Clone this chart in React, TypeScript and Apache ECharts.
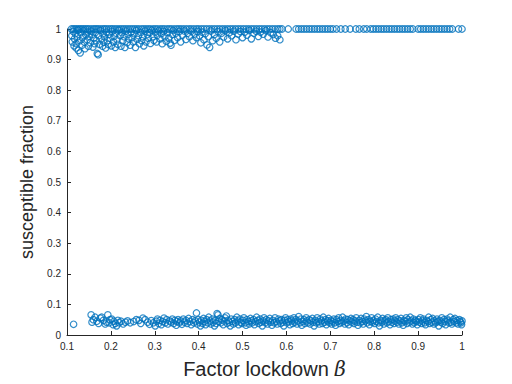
import React, { useEffect, useRef } from "react";
import * as echarts from "echarts";

const xTicks = [0.1, 0.2, 0.3, 0.4, 0.5, 0.6, 0.7, 0.8, 0.9, 1];
const yTicks = [0, 0.1, 0.2, 0.3, 0.4, 0.5, 0.6, 0.7, 0.8, 0.9, 1];

// upper cluster: points exactly at 1 (x values)
const upperAtOneX = [
  0.11, 0.114, 0.118, 0.122, 0.126, 0.13, 0.134, 0.138, 0.142, 0.146, 0.15, 0.155, 0.16, 0.164, 0.168, 0.172,
  0.177, 0.182, 0.186, 0.19, 0.195, 0.2, 0.204, 0.209, 0.214, 0.219, 0.224, 0.229, 0.234, 0.239, 0.244, 0.249,
  0.254, 0.259, 0.264, 0.27, 0.275, 0.28, 0.285, 0.29, 0.296, 0.301, 0.306, 0.312, 0.317, 0.322, 0.328, 0.333,
  0.338, 0.344, 0.35, 0.355, 0.36, 0.366, 0.372, 0.378, 0.383, 0.389, 0.395, 0.4, 0.406, 0.412, 0.418, 0.424,
  0.43, 0.436, 0.442, 0.448, 0.454, 0.46, 0.466, 0.472, 0.478, 0.484, 0.49, 0.496, 0.502, 0.508, 0.514, 0.52,
  0.526, 0.532, 0.538, 0.544, 0.55, 0.556, 0.562, 0.568, 0.574, 0.58,
  0.585, 0.59, 0.604, 0.622, 0.628, 0.634, 0.64, 0.646, 0.652, 0.658, 0.664, 0.67, 0.676, 0.682, 0.688, 0.694,
  0.7, 0.706, 0.714, 0.724, 0.734, 0.745, 0.758, 0.766, 0.776, 0.783, 0.792, 0.798, 0.804, 0.81, 0.816, 0.822,
  0.828, 0.834, 0.84, 0.846, 0.852, 0.858, 0.864, 0.87, 0.876, 0.882, 0.888, 0.9, 0.906, 0.912, 0.918, 0.924,
  0.93, 0.936, 0.942, 0.948, 0.954, 0.96, 0.966, 0.972, 0.978, 0.992, 1.0,
];

// upper cluster: points below 1
const upperBelow: [number, number][] = [
  [0.111, 0.978], [0.112, 0.958], [0.114, 0.992], [0.116, 0.945], [0.117, 0.968], [0.119, 0.985], [0.121, 0.952],
  [0.121, 0.938], [0.124, 0.975], [0.125, 0.996], [0.126, 0.93], [0.129, 0.962], [0.13, 0.922], [0.131, 0.988],
  [0.134, 0.947], [0.135, 0.972], [0.138, 0.994], [0.139, 0.958], [0.141, 0.936], [0.143, 0.981], [0.146, 0.965],
  [0.147, 0.99], [0.149, 0.944], [0.151, 0.976], [0.153, 0.955], [0.155, 0.993], [0.157, 0.982], [0.159, 0.941],
  [0.161, 0.97], [0.163, 0.952], [0.165, 0.989], [0.167, 0.962], [0.169, 0.92], [0.171, 0.916], [0.172, 0.978],
  [0.174, 0.95], [0.176, 0.995], [0.178, 0.968], [0.181, 0.944], [0.182, 0.984], [0.184, 0.957], [0.186, 0.974],
  [0.188, 0.938], [0.19, 0.99], [0.192, 0.962], [0.194, 0.95], [0.196, 0.983], [0.198, 0.97],
  [0.201, 0.945], [0.203, 0.992], [0.206, 0.958], [0.207, 0.976], [0.21, 0.94], [0.211, 0.987], [0.214, 0.965],
  [0.216, 0.95], [0.218, 0.996], [0.221, 0.978], [0.223, 0.944], [0.225, 0.988], [0.227, 0.962], [0.23, 0.975],
  [0.232, 0.94], [0.234, 0.993], [0.237, 0.955], [0.239, 0.982], [0.241, 0.968], [0.244, 0.947], [0.246, 0.99],
  [0.248, 0.972], [0.251, 0.958], [0.253, 0.985], [0.256, 0.94], [0.258, 0.995], [0.26, 0.966], [0.263, 0.978],
  [0.265, 0.952], [0.268, 0.989], [0.27, 0.962], [0.273, 0.975], [0.275, 0.945], [0.278, 0.993], [0.28, 0.958],
  [0.283, 0.982], [0.285, 0.97], [0.288, 0.988], [0.29, 0.953], [0.293, 0.996], [0.296, 0.975], [0.298, 0.963],
  [0.301, 0.99], [0.304, 0.958], [0.306, 0.98], [0.309, 0.994], [0.312, 0.968], [0.315, 0.985], [0.317, 0.952],
  [0.32, 0.992], [0.323, 0.975], [0.326, 0.96], [0.329, 0.988], [0.332, 0.97], [0.335, 0.954], [0.337, 0.947],
  [0.34, 0.982], [0.342, 0.995], [0.345, 0.963], [0.348, 0.986], [0.352, 0.972], [0.356, 0.992], [0.359, 0.958],
  [0.363, 0.98], [0.367, 0.994], [0.371, 0.966], [0.375, 0.986], [0.379, 0.975], [0.383, 0.993], [0.387, 0.962],
  [0.391, 0.984], [0.395, 0.972], [0.398, 0.992],
  [0.402, 0.978], [0.405, 0.955], [0.408, 0.99], [0.412, 0.965], [0.415, 0.985], [0.419, 0.948], [0.422, 0.975],
  [0.425, 0.94], [0.428, 0.994], [0.432, 0.962], [0.436, 0.982], [0.44, 0.97], [0.444, 0.992], [0.448, 0.958],
  [0.452, 0.986], [0.457, 0.974], [0.461, 0.995], [0.466, 0.968], [0.47, 0.988], [0.475, 0.978], [0.48, 0.993],
  [0.485, 0.965], [0.49, 0.984], [0.495, 0.992],
  [0.5, 0.972], [0.505, 0.99], [0.51, 0.98], [0.515, 0.995], [0.52, 0.968], [0.526, 0.986], [0.531, 0.993],
  [0.536, 0.976], [0.541, 0.99], [0.547, 0.983], [0.553, 0.995], [0.558, 0.974], [0.564, 0.988], [0.57, 0.982],
  [0.575, 0.97], [0.58, 0.978], [0.585, 0.965],
];

// lower cluster
const lower: [number, number][] = [
  [0.115, 0.035],
  [0.155, 0.066], [0.157, 0.042], [0.16, 0.05], [0.164, 0.058], [0.168, 0.045], [0.172, 0.038], [0.176, 0.055],
  [0.179, 0.058], [0.183, 0.048], [0.187, 0.036], [0.19, 0.042], [0.193, 0.066], [0.196, 0.04], [0.198, 0.05],
  [0.202, 0.052], [0.205, 0.034], [0.207, 0.045], [0.21, 0.038], [0.213, 0.03], [0.216, 0.048], [0.219, 0.04],
  [0.223, 0.045], [0.228, 0.036], [0.233, 0.042], [0.238, 0.046], [0.244, 0.04],
  [0.252, 0.044], [0.258, 0.05], [0.264, 0.048], [0.268, 0.038], [0.273, 0.055], [0.278, 0.05], [0.284, 0.042],
  [0.288, 0.035], [0.292, 0.047], [0.297, 0.04],
  [0.301, 0.03], [0.304, 0.045], [0.306, 0.052], [0.309, 0.038], [0.312, 0.048], [0.315, 0.034], [0.318, 0.044],
  [0.321, 0.055], [0.324, 0.04], [0.327, 0.05], [0.33, 0.036], [0.334, 0.046], [0.337, 0.042], [0.34, 0.052],
  [0.343, 0.038], [0.346, 0.048], [0.349, 0.032], [0.35, 0.044],
  [0.353, 0.05], [0.356, 0.04], [0.359, 0.046], [0.362, 0.035], [0.365, 0.052], [0.368, 0.042], [0.371, 0.048],
  [0.374, 0.038], [0.377, 0.054], [0.38, 0.044], [0.383, 0.034], [0.386, 0.05], [0.389, 0.04], [0.392, 0.046],
  [0.395, 0.072], [0.397, 0.036], [0.399, 0.05],
  [0.402, 0.042], [0.404, 0.03], [0.406, 0.048], [0.409, 0.038], [0.411, 0.054], [0.413, 0.044], [0.416, 0.034],
  [0.418, 0.05], [0.421, 0.04], [0.423, 0.058], [0.426, 0.046], [0.428, 0.036], [0.431, 0.052], [0.433, 0.042],
  [0.436, 0.03], [0.438, 0.048], [0.44, 0.038], [0.442, 0.07], [0.444, 0.066], [0.446, 0.044], [0.448, 0.054],
  [0.451, 0.04], [0.453, 0.05], [0.456, 0.034], [0.458, 0.046], [0.46, 0.056], [0.463, 0.062], [0.465, 0.038],
  [0.467, 0.048], [0.47, 0.042], [0.472, 0.03], [0.474, 0.052], [0.477, 0.044], [0.479, 0.036], [0.482, 0.05],
  [0.484, 0.04], [0.487, 0.058], [0.489, 0.046], [0.491, 0.034], [0.494, 0.052], [0.496, 0.042], [0.498, 0.038],
  [0.501, 0.048], [0.503, 0.056], [0.506, 0.04], [0.508, 0.032], [0.51, 0.05], [0.513, 0.044], [0.515, 0.036],
  [0.518, 0.054], [0.52, 0.046], [0.522, 0.04], [0.525, 0.05], [0.527, 0.034], [0.53, 0.044], [0.532, 0.058],
  [0.535, 0.048], [0.537, 0.038], [0.54, 0.052], [0.542, 0.042], [0.545, 0.03], [0.547, 0.046], [0.549, 0.056],
  [0.552, 0.04], [0.554, 0.05], [0.557, 0.036], [0.559, 0.046], [0.562, 0.054], [0.564, 0.042], [0.567, 0.032],
  [0.569, 0.048], [0.572, 0.04], [0.574, 0.056], [0.577, 0.044], [0.579, 0.036], [0.582, 0.052], [0.584, 0.046],
  [0.587, 0.038], [0.589, 0.05], [0.592, 0.042], [0.594, 0.03], [0.596, 0.048], [0.598, 0.056],
  [0.601, 0.04], [0.603, 0.05], [0.605, 0.044], [0.608, 0.034], [0.61, 0.052], [0.612, 0.046], [0.614, 0.038],
  [0.617, 0.056], [0.619, 0.042], [0.621, 0.05], [0.624, 0.036], [0.626, 0.046], [0.628, 0.06], [0.631, 0.04],
  [0.633, 0.052], [0.635, 0.032], [0.638, 0.044], [0.64, 0.05], [0.642, 0.038], [0.645, 0.056], [0.647, 0.046],
  [0.649, 0.04],
  [0.652, 0.05], [0.654, 0.036], [0.656, 0.046], [0.659, 0.054], [0.661, 0.042], [0.663, 0.03], [0.666, 0.048],
  [0.668, 0.04], [0.67, 0.056], [0.673, 0.044], [0.675, 0.036], [0.677, 0.052], [0.68, 0.046], [0.682, 0.038],
  [0.684, 0.058], [0.687, 0.042], [0.689, 0.05], [0.691, 0.034], [0.694, 0.046], [0.696, 0.054], [0.698, 0.04],
  [0.701, 0.048], [0.703, 0.036], [0.705, 0.044], [0.708, 0.052], [0.71, 0.04], [0.712, 0.032], [0.714, 0.05],
  [0.717, 0.044], [0.719, 0.056], [0.721, 0.038], [0.724, 0.048], [0.726, 0.042], [0.728, 0.058], [0.731, 0.046],
  [0.733, 0.036], [0.735, 0.052], [0.738, 0.04], [0.74, 0.05], [0.742, 0.034], [0.745, 0.046], [0.747, 0.054],
  [0.749, 0.042],
  [0.752, 0.05], [0.754, 0.038], [0.756, 0.046], [0.759, 0.056], [0.761, 0.042], [0.763, 0.032], [0.766, 0.048],
  [0.768, 0.04], [0.77, 0.054], [0.773, 0.044], [0.775, 0.036], [0.777, 0.052], [0.78, 0.046], [0.782, 0.06],
  [0.784, 0.04], [0.787, 0.05], [0.789, 0.034], [0.791, 0.044], [0.794, 0.056], [0.796, 0.042], [0.798, 0.048],
  [0.801, 0.038], [0.803, 0.052], [0.805, 0.044], [0.808, 0.058], [0.81, 0.04], [0.812, 0.03], [0.815, 0.048],
  [0.817, 0.042], [0.819, 0.054], [0.822, 0.036], [0.824, 0.046], [0.826, 0.05], [0.829, 0.04], [0.831, 0.056],
  [0.833, 0.044], [0.836, 0.034], [0.838, 0.05], [0.84, 0.042], [0.843, 0.052], [0.845, 0.038], [0.847, 0.046],
  [0.849, 0.056],
  [0.852, 0.042], [0.854, 0.05], [0.856, 0.036], [0.859, 0.046], [0.861, 0.054], [0.863, 0.04], [0.866, 0.032],
  [0.868, 0.048], [0.87, 0.044], [0.873, 0.056], [0.875, 0.038], [0.877, 0.05], [0.88, 0.042], [0.882, 0.058],
  [0.884, 0.046], [0.887, 0.036], [0.889, 0.052], [0.891, 0.04], [0.894, 0.048], [0.896, 0.044], [0.898, 0.034],
  [0.901, 0.05], [0.903, 0.042], [0.905, 0.056], [0.908, 0.038], [0.91, 0.046], [0.912, 0.052], [0.915, 0.04],
  [0.917, 0.034], [0.919, 0.048], [0.922, 0.044], [0.924, 0.058], [0.926, 0.038], [0.929, 0.05], [0.931, 0.042],
  [0.933, 0.054], [0.936, 0.036], [0.938, 0.046], [0.94, 0.04], [0.943, 0.052], [0.945, 0.044], [0.947, 0.03],
  [0.949, 0.048],
  [0.952, 0.042], [0.954, 0.056], [0.956, 0.038], [0.959, 0.05], [0.961, 0.044], [0.963, 0.034], [0.966, 0.052],
  [0.968, 0.046], [0.97, 0.04], [0.973, 0.058], [0.975, 0.042], [0.977, 0.036], [0.98, 0.05], [0.982, 0.044],
  [0.984, 0.054], [0.987, 0.04], [0.989, 0.048], [0.991, 0.036], [0.994, 0.05], [0.996, 0.044], [0.998, 0.04],
  [1.0, 0.046], [0.999, 0.034],
];

const FONT = "'Liberation Sans', Arial, Helvetica, sans-serif";
const BLUE = "#0072BD";
const AXIS = "#262626";

export default function App() {
  const ref = useRef<HTMLDivElement>(null);
  useEffect(() => {
    if (!ref.current) return;
    const chart = echarts.init(ref.current, null, { renderer: "svg" });
    const data: [number, number][] = [
      ...upperAtOneX.map((x) => [x, 1] as [number, number]),
      ...upperBelow,
      ...lower,
    ];
    chart.setOption({
      animation: false,
      backgroundColor: "#ffffff",
      grid: { left: 67, right: 50, top: 29, bottom: 43, containLabel: false },
      xAxis: {
        type: "value",
        min: xTicks[0],
        max: xTicks[xTicks.length - 1],
        interval: 0.1,
        name: "Factor lockdown {b|β}",
        nameLocation: "middle",
        nameGap: 24,
        nameTextStyle: {
          fontFamily: FONT,
          fontSize: 20,
          color: AXIS,
          rich: { b: { fontFamily: "'DejaVu Serif', serif", fontStyle: "italic", fontSize: 20, color: AXIS } },
        },
        axisLine: { show: true, onZero: false, lineStyle: { color: AXIS, width: 1 } },
        axisTick: { show: true, inside: true, length: 4, lineStyle: { color: AXIS } },
        axisLabel: {
          fontFamily: FONT,
          fontSize: 10,
          color: AXIS,
          margin: 6,
          formatter: (v: number) => String(Math.round(v * 10) / 10),
        },
        splitLine: { show: false },
      },
      yAxis: {
        type: "value",
        min: yTicks[0],
        max: yTicks[yTicks.length - 1],
        interval: 0.1,
        name: "susceptible fraction",
        nameLocation: "middle",
        nameGap: 23,
        nameTextStyle: { fontFamily: FONT, fontSize: 18, color: AXIS },
        axisLine: { show: true, onZero: false, lineStyle: { color: AXIS, width: 1 } },
        axisTick: { show: true, inside: true, length: 4, lineStyle: { color: AXIS } },
        axisLabel: {
          fontFamily: FONT,
          fontSize: 10,
          color: AXIS,
          margin: 6,
          formatter: (v: number) => String(Math.round(v * 10) / 10),
        },
        splitLine: { show: false },
      },
      series: [
        {
          type: "scatter",
          data,
          symbol: "circle",
          symbolSize: 6.5,
          itemStyle: { color: "rgba(0,0,0,0)", borderColor: BLUE, borderWidth: 1.2 },
          emphasis: { disabled: true },
        },
      ],
    });
    return () => chart.dispose();
  }, []);
  return <div ref={ref} style={{ width: 512, height: 384, margin: -8 }} />;
}
